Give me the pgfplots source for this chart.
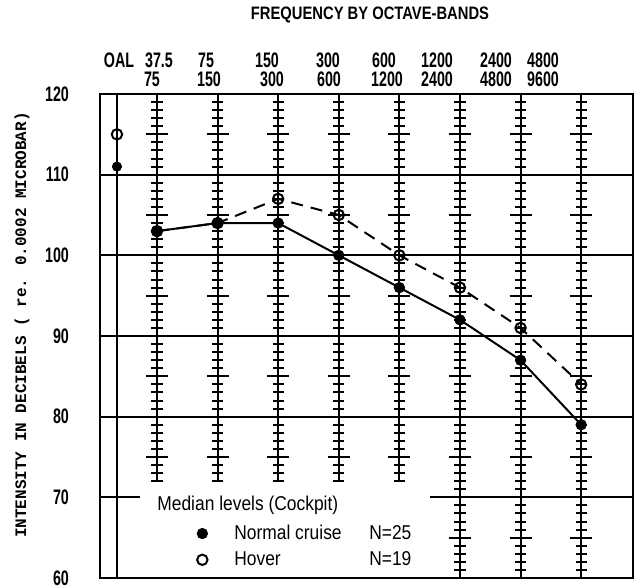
\documentclass[border=0pt]{standalone}
\usepackage{fontspec}
\setmainfont{Liberation Sans}
\newfontfamily\cond[FakeStretch=0.68]{Liberation Sans}
\newfontfamily\titlefont[FakeStretch=0.82]{Liberation Sans}
\newfontfamily\legfont[FakeStretch=0.87]{Liberation Sans}
\newfontfamily\labfont{Liberation Mono}
\usepackage{pgfplots}
\pgfplotsset{compat=1.18}
\pgfplotsset{markonly legend/.style={legend image code/.code={%
  \path[draw=none] (-4pt,0pt) -- (14pt,0pt);
  \path[##1, draw=none] plot[only marks] coordinates {(0pt,0pt)};}}}
\begin{document}
\begin{tikzpicture}
\useasboundingbox (-50pt,-4.5pt) rectangle (267.5pt,289pt);
\begin{axis}[
  at={(0pt,0pt)}, anchor=south west,
  scale only axis, width=266.5pt, height=242pt,
  xmin=0.06, xmax=8.855, ymin=60, ymax=120,
  axis line style={line width=1.3pt},
  xtick=\empty,
  ytick={60,70,...,120},
  major tick length=0pt,
  /pgf/number format/assume math mode=true,
  yticklabel style={font=\cond\bfseries\fontsize{10.5}{11}\selectfont, xshift=-12pt},
  legend style={at={(axis cs:1.61,63.9)}, anchor=west, draw=none, fill=none,
    inner sep=0pt, row sep=0.5pt, font=\legfont\fontsize{10}{11}\selectfont,
    nodes={inner sep=2pt}},
  legend cell align=left,
]
% grid lines (70 is broken by the legend)
\draw[line width=1pt] foreach \yy in {80,90,100,110} {(axis cs:0.06,\yy) -- (axis cs:8.855,\yy)};
\draw[line width=1pt] (axis cs:0.06,70) -- (axis cs:0.72,70);
\draw[line width=1pt] (axis cs:5.5,70) -- (axis cs:8.855,70);
% OAL column
\draw[line width=0.8pt] (axis cs:0.34,60) -- (axis cs:0.34,120);
% octave-band ladders
\pgfplotsinvokeforeach{1,2,3,4,5}{
  \draw[line width=1pt] (axis cs:#1,72) -- (axis cs:#1,120);
  \draw[line width=1pt] foreach \yy in {72,...,119} {(axis cs:#1,\yy) ++(-2.8pt,0pt) -- ++(5.6pt,0pt)};
  \draw[line width=1pt] foreach \yy in {75,85,...,115} {(axis cs:#1,\yy) ++(-5.5pt,0pt) -- ++(11pt,0pt)};
}
\pgfplotsinvokeforeach{6,7,8}{
  \draw[line width=1pt] (axis cs:#1,60) -- (axis cs:#1,120);
  \draw[line width=1pt] foreach \yy in {61,...,119} {(axis cs:#1,\yy) ++(-2.8pt,0pt) -- ++(5.6pt,0pt)};
  \draw[line width=1pt] foreach \yy in {65,75,...,115} {(axis cs:#1,\yy) ++(-5.5pt,0pt) -- ++(11pt,0pt)};
}
% Normal cruise
\addplot[black, line width=1pt, mark=*, mark size=2.3pt, markonly legend]
  coordinates {(1,103) (2,104) (3,104) (4,100) (5,96) (6,92) (7,87) (8,79)};
\addlegendentry{\makebox[67.5pt][l]{Normal cruise}N=25}
% Hover
\addplot[black, line width=1pt, dash pattern=on 6pt off 4pt, mark=o, mark size=2.6pt,
  mark options={solid, line width=1pt}, markonly legend]
  coordinates {(1,103) (2,104) (3,107) (4,105) (5,100) (6,96) (7,91) (8,84)};
\addlegendentry{\makebox[67.5pt][l]{Hover}N=19}
% overall levels
\addplot[forget plot, only marks, black, mark=*, mark size=2.3pt] coordinates {(0.34,111)};
\addplot[forget plot, only marks, black, mark=o, mark size=2.6pt, mark options={line width=1pt}] coordinates {(0.34,115)};
\end{axis}
% titles and band headers
\node[font=\titlefont\bfseries\fontsize{9}{10}\selectfont] at (135pt,281.5pt) {FREQUENCY BY OCTAVE-BANDS};
\begin{scope}[every node/.style={font=\cond\bfseries\fontsize{10.5}{11}\selectfont}]
\node at (9.5pt,259pt) {OAL};
\node at (29.5pt,259pt) {37.5};  \node at (26pt,249.5pt) {75};
\node at (53pt,259pt) {75};      \node at (54.5pt,249.5pt) {150};
\node at (83.5pt,259pt) {150};   \node at (86pt,249.5pt) {300};
\node at (114pt,259pt) {300};    \node at (114.5pt,249.5pt) {600};
\node at (142pt,259pt) {600};    \node at (143.5pt,249.5pt) {1200};
\node at (168.5pt,259pt) {1200}; \node at (168.5pt,249.5pt) {2400};
\node at (198pt,259pt) {2400};   \node at (198pt,249.5pt) {4800};
\node at (221.5pt,259pt) {4800}; \node at (221.5pt,249.5pt) {9600};
\end{scope}
\node[rotate=90, font=\labfont\bfseries\fontsize{8}{9}\selectfont] at (-39pt,126.5pt)
  {INTENSITY IN DECIBELS ( re. 0.0002 MICROBAR)};
\node[anchor=west, inner sep=0pt, font=\legfont\fontsize{10}{11}\selectfont] at (28.5pt,36.5pt)
  {Median levels (Cockpit)};
\end{tikzpicture}
\end{document}
